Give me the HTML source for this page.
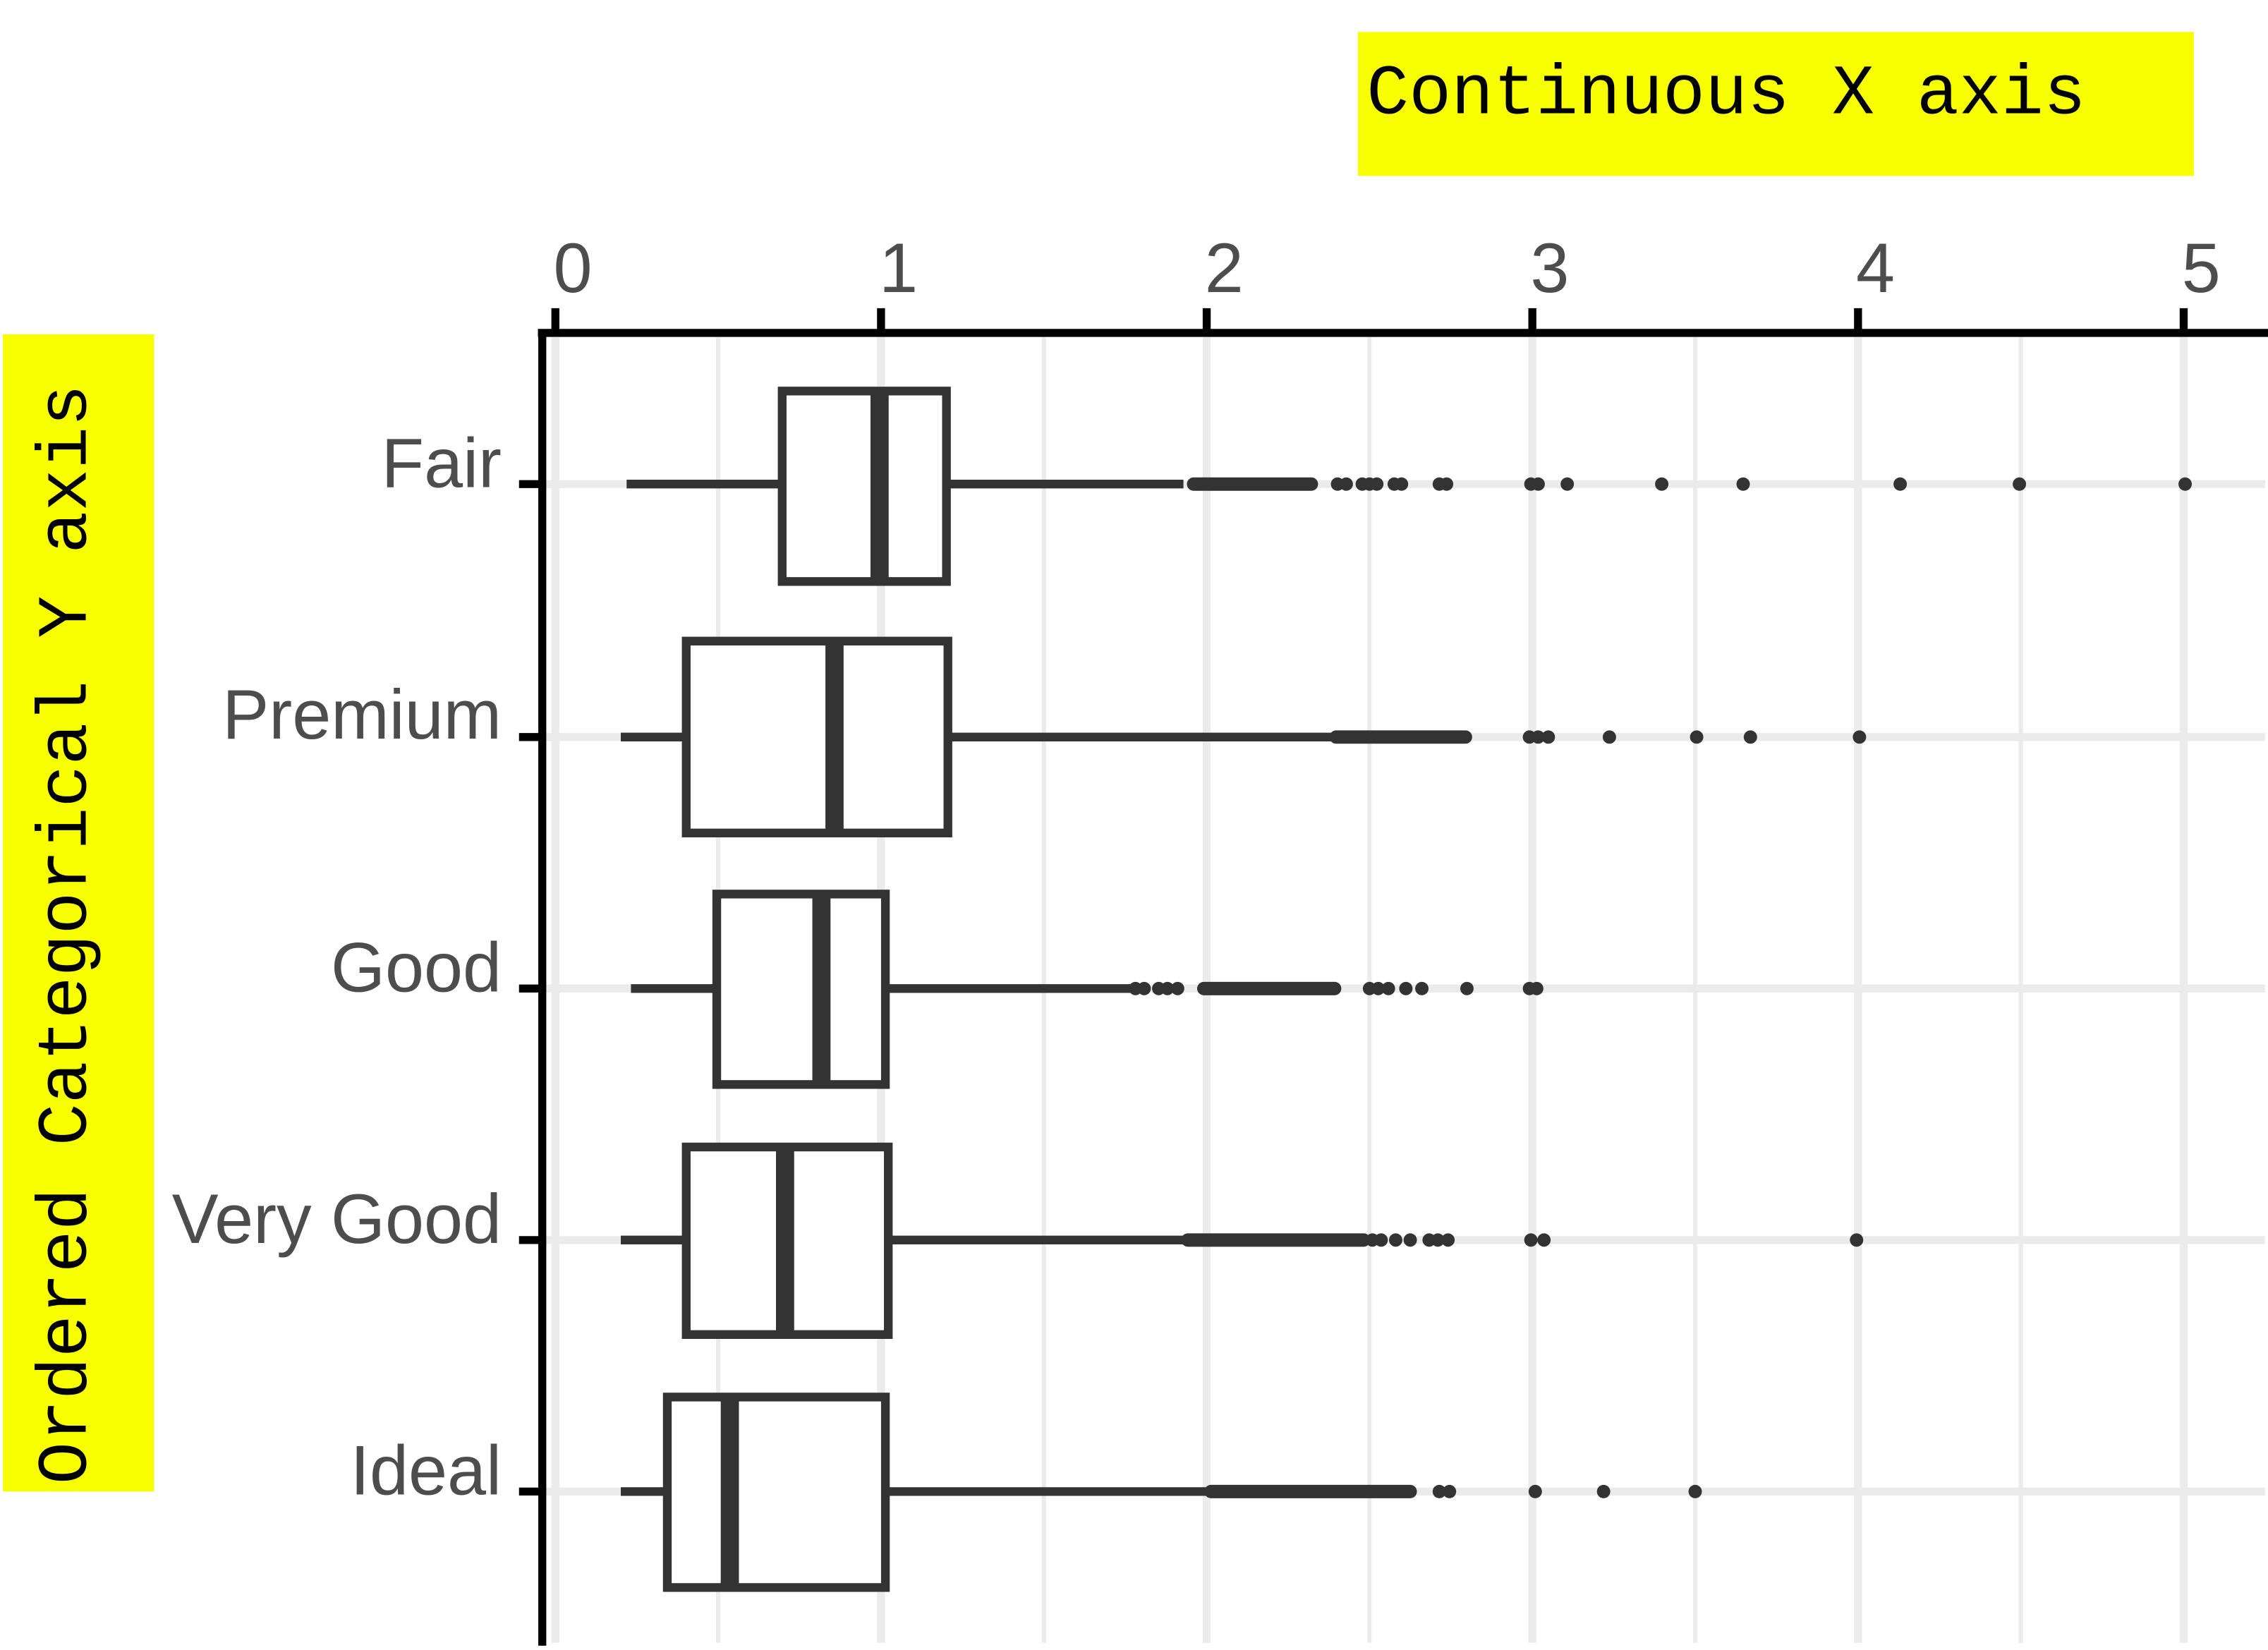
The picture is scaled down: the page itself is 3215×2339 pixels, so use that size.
<!DOCTYPE html>
<html><head><meta charset="utf-8"><style>html,body{margin:0;padding:0;background:#fff}svg{display:block}</style></head>
<body>
<svg width="3215" height="2339" viewBox="0 0 1560 1135" preserveAspectRatio="none" xmlns="http://www.w3.org/2000/svg">
<rect width="1560" height="1135" fill="#fff"/>
<!-- yellow labels -->
<rect x="934" y="22" width="575" height="99" fill="#f8ff00"/>
<text x="940" y="78" font-family="Liberation Mono, monospace" font-size="48.5" fill="#000">Continuous X axis</text>
<rect x="2" y="230" width="104" height="796" fill="#f8ff00"/>
<text transform="translate(59,1021) rotate(-90)" font-family="Liberation Mono, monospace" font-size="48.5" fill="#000">Ordered Categorical Y axis</text>
<!-- grid minor -->
<g stroke="#ebebeb" stroke-width="3">
<line x1="494" y1="232" x2="494" y2="1130"/><line x1="718" y1="232" x2="718" y2="1130"/><line x1="942" y1="232" x2="942" y2="1130"/><line x1="1166" y1="232" x2="1166" y2="1130"/><line x1="1390" y1="232" x2="1390" y2="1130"/>
</g>
<g stroke="#ebebeb" stroke-width="5.5">
<line x1="382" y1="232" x2="382" y2="1130"/><line x1="606" y1="232" x2="606" y2="1130"/><line x1="830" y1="232" x2="830" y2="1130"/><line x1="1054" y1="232" x2="1054" y2="1130"/><line x1="1278" y1="232" x2="1278" y2="1130"/><line x1="1502" y1="232" x2="1502" y2="1130"/>
<line x1="375" y1="333" x2="1558" y2="333"/><line x1="375" y1="507" x2="1558" y2="507"/><line x1="375" y1="680" x2="1558" y2="680"/><line x1="375" y1="853" x2="1558" y2="853"/><line x1="375" y1="1026" x2="1558" y2="1026"/>
</g>
<!-- axes -->
<g stroke="#000">
<line x1="370" y1="229" x2="1560" y2="229" stroke-width="5.5"/>
<line x1="373" y1="229" x2="373" y2="1132" stroke-width="5.5"/>
<g stroke-width="5.5">
<line x1="382" y1="212" x2="382" y2="229"/><line x1="606" y1="212" x2="606" y2="229"/><line x1="830" y1="212" x2="830" y2="229"/><line x1="1054" y1="212" x2="1054" y2="229"/><line x1="1278" y1="212" x2="1278" y2="229"/><line x1="1502" y1="212" x2="1502" y2="229"/>
<line x1="357" y1="333" x2="373" y2="333"/><line x1="357" y1="507" x2="373" y2="507"/><line x1="357" y1="680" x2="373" y2="680"/><line x1="357" y1="853" x2="373" y2="853"/><line x1="357" y1="1026" x2="373" y2="1026"/>
</g></g>
<g font-family="Liberation Sans, sans-serif" font-size="48" fill="#4d4d4d" text-anchor="middle">
<text x="394" y="201">0</text><text x="618" y="201">1</text><text x="842" y="201">2</text><text x="1066" y="201">3</text><text x="1290" y="201">4</text><text x="1514" y="201">5</text>
</g>
<g font-family="Liberation Sans, sans-serif" font-size="48" fill="#4d4d4d" text-anchor="end">
<text x="345" y="335">Fair</text><text x="345" y="508">Premium</text><text x="345" y="682">Good</text><text x="345" y="855">Very Good</text><text x="345" y="1028">Ideal</text>
</g>
<!-- boxes -->
<g stroke="#333" fill="#fff" stroke-width="6">
<line x1="431" y1="333" x2="538" y2="333"/><line x1="651" y1="333" x2="814" y2="333"/>
<rect x="538" y="269" width="113" height="131"/>
<line x1="605" y1="269" x2="605" y2="400" stroke-width="12.5"/>
<line x1="427" y1="507" x2="472" y2="507"/><line x1="652" y1="507" x2="916" y2="507"/>
<rect x="472" y="441" width="180" height="132"/>
<line x1="574" y1="441" x2="574" y2="573" stroke-width="12.5"/>
<line x1="434" y1="680" x2="493" y2="680"/><line x1="609" y1="680" x2="779" y2="680"/>
<rect x="493" y="615" width="116" height="131"/>
<line x1="565" y1="615" x2="565" y2="746" stroke-width="12.5"/>
<line x1="427" y1="853" x2="472" y2="853"/><line x1="611" y1="853" x2="815" y2="853"/>
<rect x="472" y="789" width="139" height="129"/>
<line x1="540" y1="789" x2="540" y2="918" stroke-width="12.5"/>
<line x1="427" y1="1026" x2="459" y2="1026"/><line x1="609" y1="1026" x2="830" y2="1026"/>
<rect x="459" y="961" width="150" height="131"/>
<line x1="502" y1="961" x2="502" y2="1092" stroke-width="12.5"/>
</g>
<!-- outlier clusters as rounded bars -->
<g stroke="#333" stroke-width="9.2" stroke-linecap="round">
<line x1="821" y1="333" x2="902" y2="333"/>
<line x1="919" y1="507" x2="1008" y2="507"/>
<line x1="828" y1="680" x2="918" y2="680"/>
<line x1="817" y1="853" x2="938" y2="853"/>
<line x1="833" y1="1026" x2="970" y2="1026"/>
</g>
<g fill="#333">
<!-- Fair -->
<circle cx="920" cy="333" r="4.6"/><circle cx="926" cy="333" r="4.6"/><circle cx="937" cy="333" r="4.6"/><circle cx="942" cy="333" r="4.6"/><circle cx="947" cy="333" r="4.6"/><circle cx="959" cy="333" r="4.6"/><circle cx="964" cy="333" r="4.6"/><circle cx="990" cy="333" r="4.6"/><circle cx="995" cy="333" r="4.6"/><circle cx="1053" cy="333" r="4.6"/><circle cx="1058" cy="333" r="4.6"/><circle cx="1078" cy="333" r="4.6"/><circle cx="1143" cy="333" r="4.6"/><circle cx="1199" cy="333" r="4.6"/><circle cx="1307" cy="333" r="4.6"/><circle cx="1389" cy="333" r="4.6"/><circle cx="1503" cy="333" r="4.6"/>
<!-- Premium -->
<circle cx="1052" cy="507" r="4.6"/><circle cx="1058" cy="507" r="4.6"/><circle cx="1065" cy="507" r="4.6"/><circle cx="1107" cy="507" r="4.6"/><circle cx="1167" cy="507" r="4.6"/><circle cx="1204" cy="507" r="4.6"/><circle cx="1279" cy="507" r="4.6"/>
<!-- Good -->
<circle cx="781" cy="680" r="4.6"/><circle cx="787" cy="680" r="4.6"/><circle cx="797" cy="680" r="4.6"/><circle cx="803" cy="680" r="4.6"/><circle cx="810" cy="680" r="4.6"/><circle cx="942" cy="680" r="4.6"/><circle cx="948" cy="680" r="4.6"/><circle cx="955" cy="680" r="4.6"/><circle cx="967" cy="680" r="4.6"/><circle cx="978" cy="680" r="4.6"/><circle cx="1009" cy="680" r="4.6"/><circle cx="1052" cy="680" r="4.6"/><circle cx="1057" cy="680" r="4.6"/>
<!-- Very Good -->
<circle cx="944" cy="853" r="4.6"/><circle cx="950" cy="853" r="4.6"/><circle cx="960" cy="853" r="4.6"/><circle cx="970" cy="853" r="4.6"/><circle cx="983" cy="853" r="4.6"/><circle cx="989" cy="853" r="4.6"/><circle cx="996" cy="853" r="4.6"/><circle cx="1053" cy="853" r="4.6"/><circle cx="1062" cy="853" r="4.6"/><circle cx="1277" cy="853" r="4.6"/>
<!-- Ideal -->
<circle cx="990" cy="1026" r="4.6"/><circle cx="997" cy="1026" r="4.6"/><circle cx="1056" cy="1026" r="4.6"/><circle cx="1103" cy="1026" r="4.6"/><circle cx="1166" cy="1026" r="4.6"/>
</g>
</svg>
</body></html>
